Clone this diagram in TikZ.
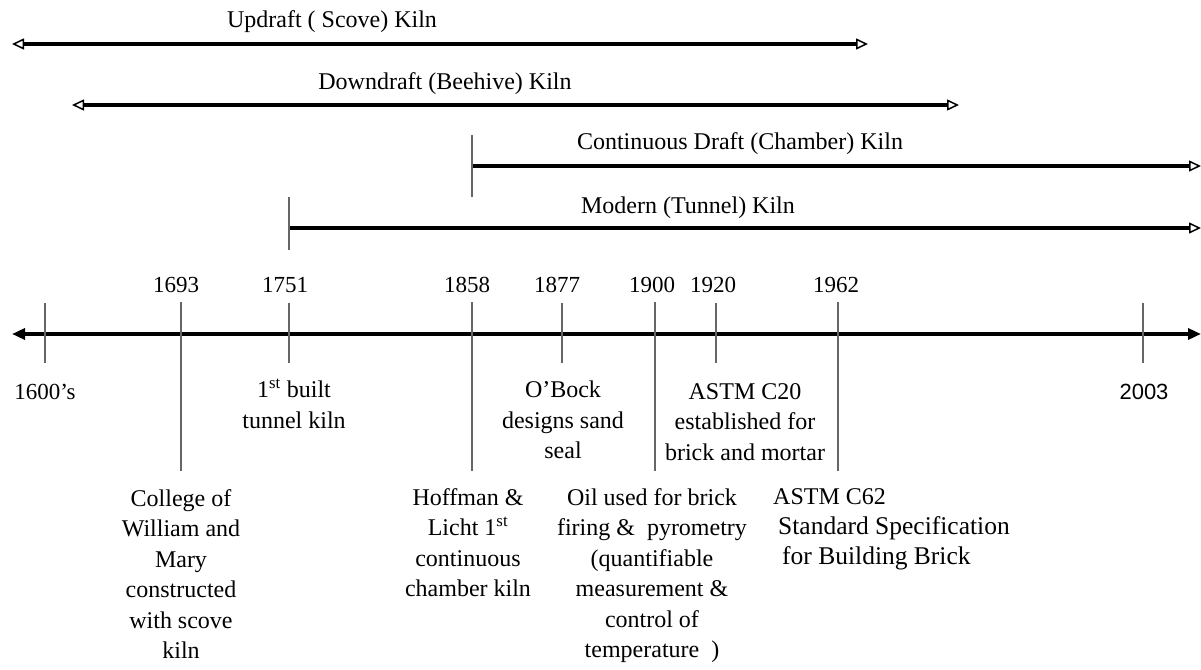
\documentclass[tikz,border=0pt]{standalone}
\usepackage{fontspec}
\setmainfont{Liberation Serif}
\newfontfamily\sansf{Liberation Sans}
\usetikzlibrary{arrows.meta}
\tikzset{
  opentip/.tip={Triangle[open,length=12pt,width=11pt,line width=1.5pt]},
  filltip/.tip={Triangle[length=13pt,width=11pt]}}
\begin{document}
\begin{tikzpicture}[x=1pt,y=-1pt,
  rangeline/.style={line width=3.4pt,black},
  tickline/.style={line width=1.3pt,black!60},
  txt/.style={inner sep=0pt,font=\fontsize{24}{30.5}\selectfont},
  yr/.style={inner sep=0pt,font=\fontsize{23}{28}\selectfont},
  blk/.style={txt,align=center,anchor=north}]
\useasboundingbox (0,0) rectangle (1201,669);
% range coordinates
\coordinate (upL) at (12,44);   \coordinate (upR) at (868,44);
\coordinate (dnL) at (72,105);  \coordinate (dnR) at (959,105);
\coordinate (coL) at (472,166); \coordinate (coR) at (1201,166);
\coordinate (coT) at (472,135); \coordinate (coB) at (472,197);
\coordinate (moL) at (289,228); \coordinate (moR) at (1201,228);
\coordinate (moT) at (289,197); \coordinate (moB) at (289,250);
\coordinate (tlL) at (12,334);  \coordinate (tlR) at (1201,334);
% range labels
\node[txt] (lup) at (332,22) {Updraft ( Scove) Kiln};
\node[txt] (ldn) at (445,84) {Downdraft (Beehive) Kiln};
\node[txt] (lco) at (740,144) {Continuous Draft (Chamber) Kiln};
\node[txt] (lmo) at (688,208) {Modern (Tunnel) Kiln};
% range arrows
\draw[rangeline,opentip-opentip] (upL) -- (upR);
\draw[rangeline,opentip-opentip] (dnL) -- (dnR);
\draw[rangeline,-opentip] (coL) -- (coR);
\draw[tickline] (coT) -- (coB);
\draw[rangeline,-opentip] (moL) -- (moR);
\draw[tickline] (moT) -- (moB);
% timeline
\draw[rangeline,filltip-filltip] (tlL) -- (tlR);
% ticks: short
\foreach \x/\n in {45/a,289/b,562/c,716/d,1143/e}{
  \coordinate (t\n1) at (\x,303); \coordinate (t\n2) at (\x,363);
  \draw[tickline] (t\n1) -- (t\n2);}
% ticks: long
\foreach \x/\n in {181/f,472/g,655/h,838/i}{
  \coordinate (t\n1) at (\x,302); \coordinate (t\n2) at (\x,471);
  \draw[tickline] (t\n1) -- (t\n2);}
% years
\node[yr] (y1693) at (176,285) {1693};
\node[yr] (y1751) at (285,285) {1751};
\node[yr] (y1858) at (467,285) {1858};
\node[yr] (y1877) at (557,285) {1877};
\node[yr] (y1900) at (652,285) {1900};
\node[yr] (y1920) at (713,285) {1920};
\node[yr] (y1962) at (836,285) {1962};
\node[yr] (y1600) at (45,392) {1600’s};
\node[inner sep=0pt,font=\sansf\fontsize{22}{26}\selectfont] (y2003) at (1144,392) {2003};
% events
\node[blk] (e1751) at (294,379) {1\textsuperscript{st} built\\tunnel kiln};
\node[blk] (e1877) at (563,381) {O’Bock\\designs sand\\seal};
\node[blk] (e1920) at (745,383) {ASTM C20\\established for\\brick and mortar};
\node[blk] (e1693) at (181,489) {College of\\William and\\Mary\\constructed\\with scove\\kiln};
\node[blk] (e1858) at (468,488) {Hoffman \&\\Licht 1\textsuperscript{st}\\continuous\\chamber kiln};
\node[blk] (e1900) at (652,488) {Oil used for brick\\firing \&\ \ pyrometry\\(quantifiable\\measurement \&\\control of\\temperature\ \ )};
\node[txt,anchor=west] (e1962a) at (773,497) {ASTM C62};
\node[inner sep=0pt,font=\fontsize{25.5}{30}\selectfont,anchor=west] (e1962b) at (778,528) {Standard Specification};
\node[inner sep=0pt,font=\fontsize{25.5}{30}\selectfont,anchor=west] (e1962c) at (782,558) {for Building Brick};
\end{tikzpicture}
\end{document}
